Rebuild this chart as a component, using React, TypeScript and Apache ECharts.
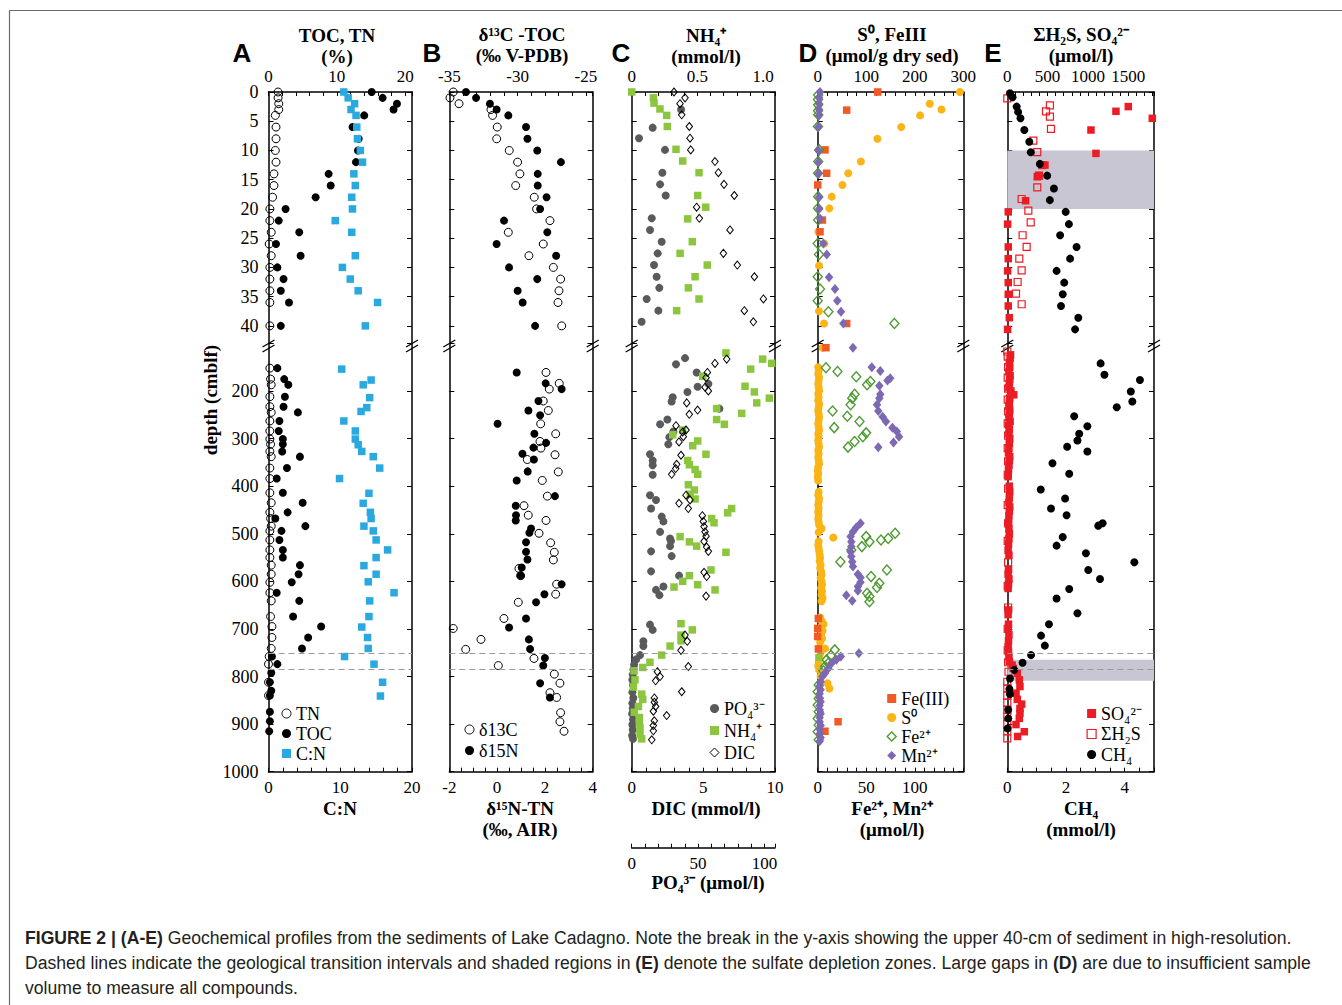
import React, { useEffect, useRef } from "react";
import * as echarts from "echarts";

type P = [number, number]; // [depth (cmblf), value]

// ---------------- Panel A ----------------
const tnPts: P[] = [
  [0, 1.4], [1, 1.4], [2, 1.5], [3, 1.5], [4, 1.0], [6, 1.1], [8, 1.1], [10, 1.0], [12, 1.1], [14, 0.8], [16, 0.8], [18, 0.6],
  [20, 0.2], [22, 0.2], [24, 0.4], [26, 0.1], [28, 0.4], [30, 0.2], [32, 0.2], [34, 0.2], [36, 0.2], [40, 0.2],
  [152, 0.2], [175, 0.3], [187, 0.4], [212, 0.2], [233, 0.2], [245, 0.4], [263, 0.2], [284, 0.2], [301, 0.2], [312, 0.3],
  [327, 0.2], [338, 0.4], [362, 0.2], [384, 0.2], [414, 0.2], [435, 0.4], [455, 0.2], [468, 0.3], [484, 0.4], [494, 0.2],
  [513, 0.2], [534, 0.2], [550, 0.2], [566, 0.4], [585, 0.4], [602, 0.2], [624, 0.2], [641, 0.4], [674, 0.3], [695, 0.5],
  [718, 0.5], [741, 0.4], [758, 0.1], [774, 0.0], [812, 0.0], [840, 0.0],
];
const tocPts: P[] = [
  [0, 15.1], [1, 16.7], [2, 18.8], [3, 18.3], [4, 14.0], [6, 12.3], [8, 13.2], [10, 13.1], [12, 12.8], [14, 8.8], [16, 9.1],
  [18, 6.9], [20, 2.5], [22, 1.5], [24, 4.5], [26, 1.1], [28, 4.7], [30, 1.3], [32, 2.2], [34, 1.8], [36, 3.0], [40, 1.8],
  [152, 1.3], [175, 2.3], [187, 2.9], [212, 2.4], [233, 2.2], [245, 4.3], [263, 1.6], [284, 1.5], [301, 2.1], [312, 2.1],
  [327, 2.0], [338, 4.6], [362, 2.7], [384, 1.2], [414, 2.1], [435, 5.0], [455, 2.8], [468, 1.0], [484, 5.4], [494, 1.9],
  [513, 1.6], [534, 2.1], [550, 2.1], [566, 4.6], [585, 4.4], [602, 3.4], [624, 1.2], [641, 4.5], [674, 3.6], [695, 7.7],
  [718, 5.8], [741, 4.9], [758, 0.5], [774, 1.3], [792, 0.4], [812, 0.2], [830, 0.4], [840, 0.2], [874, 0.2], [894, 0.2], [915, 0.1],
];
const cnPts: P[] = [
  [0, 10.5], [1, 11.1], [2, 12.0], [3, 11.5], [4, 12.2], [6, 12.3], [8, 12.4], [10, 12.8], [12, 13.1], [14, 11.9], [16, 12.1],
  [18, 11.6], [20, 11.7], [22, 9.3], [24, 11.6], [28, 12.1], [30, 10.3], [32, 11.4], [34, 12.5], [36, 15.2], [40, 13.5],
  [154, 10.2], [177, 14.3], [187, 13.2], [214, 14.1], [235, 13.7], [243, 12.9], [263, 10.5], [284, 12.1], [301, 12.1], [313, 12.5],
  [327, 13.0], [338, 14.6], [362, 15.5], [384, 9.9], [415, 14.0], [436, 13.2], [455, 14.2], [468, 14.3], [484, 13.3], [494, 14.6],
  [513, 15.0], [534, 16.6], [550, 15.0], [567, 13.3], [585, 15.0], [601, 13.9], [624, 17.5], [641, 14.1], [674, 14.0], [696, 13.0],
  [718, 13.8], [741, 13.9], [758, 10.6], [774, 14.7], [812, 15.9], [841, 15.6],
];

// ---------------- Panel B ----------------
const d13cPts: P[] = [
  [0, -34.71], [1, -34.95], [2, -34.29], [3, -31.95], [4, -31.83], [6, -31.49], [8, -31.53], [10, -30.61], [12, -30.0], [14, -29.83],
  [16, -30.14], [18, -28.78], [20, -28.61], [22, -27.63], [24, -30.68], [26, -28.12], [28, -29.17], [30, -27.38], [32, -26.85],
  [34, -26.97], [36, -27.04], [40, -26.77],
  [161, -27.92], [184, -26.95], [196, -27.68], [221, -28.12], [241, -27.75], [269, -28.31], [290, -27.21], [306, -28.36],
  [320, -28.29], [334, -27.26], [344, -29.29], [370, -27.02], [388, -28.19], [421, -27.82], [441, -29.53], [461, -29.22],
  [472, -27.92], [499, -28.43], [519, -27.58], [539, -27.31], [555, -27.38], [573, -29.9], [588, -29.78], [606, -27.14],
  [627, -27.21], [644, -29.95], [678, -31.0], [699, -34.71], [722, -32.68], [743, -33.8], [762, -28.8], [777, -31.41],
  [795, -27.31], [814, -26.9], [834, -27.63], [844, -27.14], [876, -26.85], [895, -26.9], [915, -26.6],
];
const d15nPts: P[] = [
  [0, -1.3], [1, -0.88], [2, -0.3], [3, -0.02], [4, 0.47], [6, 1.21], [8, 1.27], [10, 1.68], [12, 2.67], [14, 1.7], [16, 1.7],
  [18, 2.07], [20, 1.8], [22, 0.29], [24, 2.1], [26, -0.02], [28, 2.47], [30, 0.5], [32, 1.68], [34, 0.86], [36, 1.07], [40, 1.59],
  [161, 0.82], [184, 2.03], [196, 2.7], [221, 1.73], [241, 1.31], [251, 1.8], [269, 0.02], [290, 1.56], [309, 2.05], [319, 1.52],
  [332, 1.06], [344, 1.54], [369, 1.28], [388, 0.82], [421, 2.42], [441, 0.78], [461, 0.79], [472, 0.78], [489, 1.42], [498, 1.35],
  [518, 1.21], [538, 1.21], [554, 1.27], [571, 1.03], [588, 0.99], [606, 2.7], [627, 1.98], [644, 1.63], [678, 1.21], [697, 0.5],
  [722, 1.33], [742, 1.38], [761, 2.0], [777, 1.93], [814, 1.8], [844, 2.21],
];

// ---------------- Panel C ----------------
const po4Pts: P[] = [
  [3, 37.2], [6.1, 15.8], [7.9, 5.5], [9.9, 25.1], [13.8, 23.1], [15.8, 21.4], [17.7, 25.6], [21.6, 15.1], [23.6, 13.8],
  [25.6, 22.6], [27.6, 19.6], [29.6, 16.8], [31.6, 18.8], [33.5, 20.8], [35.4, 11.3], [37.4, 20.1], [39.3, 7.5],
  [131, 40.2], [144, 33.4], [161, 49.0], [185, 57.8], [191, 49.7], [202, 42.0], [213, 30.9], [222, 30.1], [237, 66.1],
  [260, 26.9], [270, 21.4], [285, 31.4], [297, 28.4], [312, 27.6], [333, 13.8], [346, 15.8], [356, 15.8], [376, 15.8],
  [419, 13.8], [429, 18.3], [447, 14.6], [464, 22.6], [474, 23.9], [496, 21.4], [510, 28.9], [515, 29.6], [526, 28.9],
  [537, 14.6], [547, 30.1], [579, 14.6], [588, 35.7], [611, 23.9], [618, 18.3], [629, 20.9], [691, 13.8], [702, 15.8],
  [726, 8.8], [736, 8.8], [755, 6.3], [764, 3.3], [775, 1.8], [785, 1.3], [796, 0.8], [807, 0.5], [818, 1.0], [833, 0.5],
  [845, 1.2], [856, 0.5], [867, 0.8], [878, 0.3], [890, 1.0], [901, 0.5], [912, 0.8], [924, 0.3], [931, 1.0],
];
const nh4Pts: P[] = [
  [0, 0.0], [1, 0.165], [1.9, 0.17], [2.9, 0.215], [4, 0.266], [5.9, 0.271], [9.8, 0.337], [11.8, 0.388], [13.8, 0.512],
  [17.7, 0.502], [19.7, 0.563], [21.7, 0.426], [25.6, 0.461], [27.6, 0.368], [29.6, 0.575], [31.6, 0.482], [33.5, 0.431],
  [35.4, 0.512], [37.4, 0.342],
  [120, 0.717], [133, 0.996], [142, 1.065], [154, 0.905], [169, 0.54], [190, 0.862], [202, 0.933], [215, 1.047], [225, 0.951],
  [237, 0.646], [247, 0.837], [260, 0.646], [270, 0.705], [282, 0.388], [292, 0.312], [305, 0.502], [315, 0.464], [333, 0.565],
  [346, 0.426], [355, 0.439], [365, 0.482], [375, 0.502], [397, 0.431], [408, 0.477], [417, 0.444], [427, 0.482], [447, 0.76],
  [456, 0.73], [468, 0.608], [477, 0.626], [506, 0.368], [517, 0.439], [526, 0.494], [539, 0.717], [576, 0.603], [588, 0.439],
  [600, 0.388], [607, 0.502], [612, 0.322], [618, 0.634], [689, 0.375], [702, 0.461], [713, 0.375], [725, 0.375], [736, 0.292],
  [755, 0.228], [770, 0.139], [781, 0.084], [788, 0.018], [807, 0.025], [822, 0.013], [837, 0.076], [848, 0.084], [863, 0.051],
  [875, 0.02], [886, 0.058], [897, 0.058], [908, 0.063], [922, 0.063], [931, 0.076],
];
const dicPts: P[] = [
  [0, 2.95], [1, 3.72], [2, 3.37], [3.9, 3.49], [5.9, 4.02], [7.9, 4.07], [9.9, 4.12], [11.9, 5.81], [13.8, 6.05], [15.8, 6.44],
  [17.7, 7.16], [19.7, 4.53], [21.6, 4.72], [23.6, 6.86], [27.6, 6.4], [29.6, 7.37], [31.6, 8.56], [35.4, 9.19], [37.4, 7.86],
  [39.3, 8.49],
  [133, 6.63], [142, 5.81], [161, 5.28], [172, 5.19], [192, 5.12], [200, 5.35], [225, 3.84], [240, 4.6], [249, 4.02], [273, 3.09],
  [282, 3.79], [286, 3.56], [296, 3.6], [307, 3.3], [335, 3.44], [354, 3.14], [363, 3.07], [375, 2.79], [419, 3.79], [429, 4.07],
  [436, 3.3], [447, 3.95], [462, 4.93], [474, 5.0], [485, 5.05], [496, 5.12], [505, 5.19], [516, 5.05], [528, 5.23], [537, 5.35],
  [581, 5.05], [590, 5.23], [631, 5.19], [713, 3.72], [726, 3.88], [745, 3.44], [779, 3.95], [790, 1.79], [800, 1.98], [809, 1.67],
  [832, 3.49], [845, 1.58], [854, 1.58], [863, 1.67], [873, 1.51], [882, 2.44], [893, 1.58], [903, 1.51], [914, 1.51], [933, 1.4],
];

// ---------------- Panel D ----------------
const fe3Pts: P[] = [
  [0, 123.6], [3.1, 59.7], [9.9, 15.1], [13.9, 18.5], [15.9, 0], [21.9, 9.6], [23.9, 4.8], [39.6, 59.7],
  [109, 17], [678, 1.4], [699, 0], [716, 0], [742, 1.4], [895, 42], [915, 15],
];
const s0Pts: P[] = [
  [0, 293], [2, 231], [3, 255], [4, 211], [6, 172], [8, 123], [11.9, 89], [13.9, 63], [15.9, 51], [17.9, 29], [19.9, 24],
  [23.9, 1.4], [25.9, 13.7], [29.7, 2.7], [37.5, 2.7], [39.6, 13],
  [109, 10], [150, 1], [157, 2], [164, 1], [171, 3], [178, 2], [185, 1], [192, 2], [199, 3], [206, 1], [213, 2], [220, 1],
  [227, 3], [234, 2], [241, 1], [248, 2], [255, 3], [262, 2], [269, 1], [276, 2], [283, 3], [290, 1], [297, 2], [304, 1],
  [311, 2], [318, 3], [325, 1], [332, 2], [339, 1], [346, 2], [353, 3], [360, 1], [367, 0], [374, 1], [381, 0], [388, 1],
  [412, 2], [419, 1], [426, 3], [433, 2], [440, 1], [447, 2], [454, 1], [461, 2], [468, 1], [475, 2], [482, 3], [489, 8],
  [497, 2], [508, 32], [516, 2], [523, 1], [530, 2], [537, 3], [544, 4], [551, 5], [558, 4], [565, 6], [572, 5], [579, 7],
  [586, 8], [593, 6], [600, 8], [607, 9], [614, 7], [621, 9], [628, 8], [635, 10], [642, 8],
  [676, 5], [683, 8], [690, 12], [697, 6], [704, 10], [712, 7], [720, 9], [728, 5], [741, 15], [750, 6], [760, 4], [770, 2],
  [778, 1], [786, 3], [800, 6], [814, 20], [825, 24],
];
const fe2Pts: P[] = [
  [0.5, 0.5], [1.3, 0.3], [2.2, 0.5], [3.2, 0.3], [3.9, 0.5], [5.9, 0.3], [9.9, 1.5], [11.9, 0.5], [13.9, 0.3], [17.9, 0.5],
  [19.9, 0.3], [21.9, 0.5], [25.9, 0], [27.8, 1.4], [31.6, 0], [33.7, 2.4], [35.7, 0], [37.6, 11], [39.6, 79],
  [151, 8.5], [159, 20.4], [170, 39.7], [180, 54.3], [187, 50.9], [207, 38.0], [215, 35.6], [229, 33.9], [242, 15.3],
  [253, 30.5], [264, 43.1], [277, 17.0], [288, 49.9], [296, 46.5], [306, 38.0], [318, 31.2], [499, 79.8], [506, 49.9],
  [510, 72.6], [513, 65.2], [517, 53.3], [527, 45.5], [534, 34.6], [559, 23.4], [576, 71.3], [590, 55.0], [604, 63.5],
  [613, 61.1], [625, 50.9], [632, 53.3], [643, 53.3], [744, 17.6], [756, 13.6], [765, 9.2], [772, 10.9], [779, 7.5],
  [788, 5.8], [818, 1], [832, 0], [846, 1], [860, 0], [874, 1], [888, 0], [902, 1], [916, 0], [933, 1],
];
const mn2Pts: P[] = [
  [0, 2.4], [1, 1.4], [2, 1.4], [3, 1.4], [4, 1.4], [6, 0.7], [10, 0.7], [12, 0.7], [14, 0.7], [18, 1.4], [20, 1.4],
  [21.7, 2.4], [25.9, 5.8], [27.8, 9.3], [31.7, 11.7], [33.7, 17.8], [35.7, 20.2], [37.6, 24], [39.6, 26.4],
  [109, 36.3], [150, 55.7], [158, 64.5], [173, 74.7], [178, 71.9], [189, 63.5], [207, 64.5], [215, 63.5], [229, 61.1],
  [242, 62.4], [254, 66.9], [264, 70.3], [277, 77.0], [285, 81.5], [296, 83.8], [308, 78.1], [318, 62.4], [478, 44.1],
  [487, 39.7], [496, 36.3], [506, 33.9], [517, 34.6], [527, 34.6], [538, 33.9], [548, 34.6], [559, 35.6], [569, 36.3],
  [585, 41.4], [592, 44.1], [602, 44.1], [611, 41.4], [620, 41.4], [629, 29.5], [641, 35.6], [751, 42.4], [758, 23.8],
  [765, 19.3], [772, 14.3], [783, 10.9], [793, 7.5], [800, 4.8], [811, 3], [820, 2], [828, 3], [836, 2], [845, 2], [853, 3],
  [861, 2], [870, 2], [878, 3], [886, 2], [895, 2], [903, 3], [911, 2], [920, 2], [928, 3], [936, 2],
];
const strayPts: P[] = [[760, 1]];

// ---------------- Panel E ----------------
const so4Pts: P[] = [
  [2.5, 1501], [3.3, 1348], [4.5, 1799], [6.5, 1038], [10.5, 1100], [12.5, 467], [14.3, 397], [14.5, 372], [18.6, 227],
  [20.5, 12], [22.6, 4], [26.5, 12], [28.5, 12], [30.6, 4], [32.6, 12], [34.6, 12], [36.6, 12], [38.6, 25], [40.6, 4],
  [124, 40], [132, 35], [140, 25], [150, 30], [160, 20], [168, 35], [176, 30], [184, 25], [193, 20], [200, 45], [208, 80],
  [215, 30], [224, 25], [232, 20], [240, 30], [248, 25], [256, 20], [264, 35], [272, 15], [280, 25], [290, 20], [300, 30],
  [310, 25], [320, 20], [330, 15], [338, 30], [346, 25], [356, 20], [366, 15], [380, 10], [400, 25], [412, 30], [424, 25],
  [434, 20], [444, 30], [452, 25], [462, 20], [476, 15], [490, 20], [500, 25], [510, 20], [522, 15], [535, 10], [545, 20],
  [575, 15], [585, 10], [595, 20], [605, 15], [615, 10], [660, 15], [670, 10], [690, 15], [700, 10], [712, 20], [725, 15],
  [738, 10], [748, 15], [758, 20], [768, 25], [776, 60], [783, 74], [793, 124], [807, 149], [821, 157], [835, 108],
  [848, 124], [858, 178], [867, 157], [877, 157], [888, 149], [901, 108], [916, 211], [926, 128],
];
const h2sPts: P[] = [
  [1.1, 0], [2.3, 529], [3.3, 480], [4.2, 529], [6.3, 542], [8.3, 323], [10.3, 372], [12.5, 434], [14.3, 393], [16.3, 372],
  [18.3, 178], [20.3, 261], [22.3, 290], [24.5, 190], [26.5, 240], [28.5, 149], [30.5, 178], [32.5, 128], [34.5, 108], [36.3, 178],
  [117, 0], [128, 5], [150, 10], [172, 5], [195, 10], [218, 5], [243, 10], [268, 5], [294, 10], [320, 5], [348, 10], [376, 5],
  [405, 10], [440, 5], [478, 10], [515, 5], [560, 10], [610, 5], [655, 10], [700, 5], [745, 5], [770, 10], [790, 15],
  [811, 0], [825, 0], [840, 0], [855, 0], [870, 0], [885, 0], [900, 0], [915, 0], [930, 0],
];
const ch4Pts: P[] = [
  [0.2, 0.09], [0.9, 0.18], [2.5, 0.32], [3.4, 0.37], [4.5, 0.45], [6.5, 0.58], [8.5, 0.75], [10.3, 0.8], [12.3, 1.11],
  [14.3, 1.36], [16.5, 1.59], [18.5, 1.45], [20.5, 1.99], [22.6, 2.1], [24.5, 1.8], [26.5, 2.36], [28.5, 2.14], [30.6, 1.68],
  [32.6, 1.94], [34.6, 1.89], [36.6, 1.83], [38.6, 2.42], [40.6, 2.31],
  [142, 3.18], [166, 3.31], [177, 4.52], [201, 4.21], [222, 4.26], [234, 3.73], [253, 2.28], [274, 2.73], [290, 2.45],
  [304, 2.39], [317, 2.04], [327, 2.73], [352, 1.54], [374, 2.11], [407, 1.14], [426, 1.97], [447, 1.49], [461, 2.02],
  [478, 3.25], [483, 3.1], [507, 1.89], [525, 1.68], [541, 2.68], [560, 4.33], [576, 2.76], [595, 3.16], [616, 2.11],
  [636, 1.68], [667, 2.39], [690, 1.42], [714, 1.15], [735, 1.28], [755, 0.81], [771, 0.52], [786, 0.24], [804, 0.09],
  [826, 0.07], [837, 0.09], [870, 0.03], [888, 0.03], [909, 0.01],
];

const TRANSITION_DEPTHS = [751, 784];
const SULFATE_DEPLETION: [number, number][] = [[10, 20], [765, 809]];

// ---------------- layout / style ----------------
const SERIF = "'Liberation Serif', 'Times New Roman', Times, serif";
const SANS = "'Liberation Sans', Arial, Helvetica, sans-serif";
const UPPER = { top: 92, height: 251.4, min: 0, max: 43, step: 5 };
const LOWER = { top: 343.4, height: 428.3, min: 100, max: 1000, step: 100 };
const PANEL_X: [number, number][] = [[268.5, 412], [449.3, 592.7], [631.7, 775], [817.7, 963.3], [1007.3, 1154]];

type AxisSpec = { min: number; max: number; step: number; lab: number; dec?: number; hideAbove?: number };
const TOP_AXES: AxisSpec[] = [
  { min: 0, max: 21, step: 2, lab: 10 },
  { min: -35, max: -24.5, step: 1, lab: 5 },
  { min: 0, max: 1.09, step: 0.1, lab: 0.5, dec: 1 },
  { min: 0, max: 300, step: 20, lab: 100 },
  { min: 0, max: 1820, step: 100, lab: 500 },
];
const BOTTOM_AXES: AxisSpec[] = [
  { min: 0, max: 20, step: 2, lab: 10 },
  { min: -2, max: 4, step: 0.5, lab: 2 },
  { min: 0, max: 10, step: 1, lab: 5 },
  { min: 0, max: 150, step: 10, lab: 50, hideAbove: 100 },
  { min: 0, max: 5, step: 0.5, lab: 2 },
];
const PO4_AXIS: AxisSpec = { min: 0, max: 108, step: 10, lab: 50, hideAbove: 100 };

const labelFmt = (s: AxisSpec) => (v: number) => {
  const r = v / s.lab;
  if (Math.abs(r - Math.round(r)) > 1e-6) return "";
  if (s.hideAbove !== undefined && v > s.hideAbove + 1e-6) return "";
  if (Math.abs(v) < 1e-9) return "0";
  return s.dec ? v.toFixed(s.dec) : String(Math.round(v));
};

function xAx(s: AxisSpec, grid: number, pos: "top" | "bottom", visible: boolean, offset = 0) {
  return {
    type: "value", gridIndex: grid, position: pos, min: s.min, max: s.max, interval: s.step, offset, show: visible,
    axisLine: { show: true, onZero: false, lineStyle: { color: "#000", width: 1.5 } },
    axisTick: { show: true, inside: true, length: 4, lineStyle: { color: "#000", width: 1 } },
    axisLabel: { show: true, margin: 7, color: "#000", fontFamily: SERIF, fontSize: 17, formatter: labelFmt(s), showMinLabel: true, showMaxLabel: true },
    splitLine: { show: false },
  };
}
function yAx(grid: number, pos: "left" | "right", upper: boolean, labels: boolean) {
  const d = upper ? UPPER : LOWER;
  return {
    type: "value", gridIndex: grid, position: pos, inverse: true, min: d.min, max: d.max, interval: d.step,
    axisLine: { show: true, onZero: false, lineStyle: { color: "#000", width: 1.5 } },
    axisTick: { show: true, inside: true, length: 5, lineStyle: { color: "#000", width: 1 } },
    axisLabel: {
      show: labels, margin: 10, color: "#000", fontFamily: SERIF, fontSize: 18,
      formatter: (v: number) => (upper ? (v % 5 === 0 && v <= 40 ? String(v) : "") : v >= 200 ? String(v) : ""),
    },
    splitLine: { show: false },
  };
}

const CLEAR = "rgba(255,255,255,0)";
const filled = (color: string, symbol: string, size: number) => ({ symbol, symbolSize: size, itemStyle: { color, opacity: 1 } });
const hollow = (color: string, symbol: string, size: number, bw = 1) => ({
  symbol, symbolSize: size, itemStyle: { color: CLEAR, borderColor: color, borderWidth: bw, opacity: 1 },
});

const COL = {
  black: "#000000", blue: "#29a9e0", grey: "#595a5c", green: "#8cc63f", orange: "#f15a24", gold: "#fbb415",
  fe2: "#4f9a33", mn: "#7d68b4", red: "#ec1c24", shade: "#c8c6d3", dash: "#9a9a9a",
};

type Scale = "top" | "bottom" | "po4";
function pair(name: string, pts: P[], p: number, scale: Scale, style: any, upExtra: any = {}, loExtra: any = {}) {
  const xUp = scale === "top" ? 4 * p : scale === "bottom" ? 4 * p + 1 : 21;
  const xLo = scale === "top" ? 4 * p + 3 : scale === "bottom" ? 4 * p + 2 : 20;
  const up = pts.filter((d) => d[0] <= UPPER.max).map((d) => [d[1], d[0]]);
  const lo = pts.filter((d) => d[0] >= LOWER.min).map((d) => [d[1], d[0]]);
  const base = { type: "scatter", name, emphasis: { disabled: true }, silent: true, ...style };
  return [
    { ...base, xAxisIndex: xUp, yAxisIndex: 4 * p, data: up, ...upExtra },
    { ...base, xAxisIndex: xLo, yAxisIndex: 4 * p + 2, data: lo, ...loExtra },
  ];
}

const dashLines = {
  markLine: {
    silent: true, symbol: ["none", "none"], label: { show: false },
    lineStyle: { type: [6, 4], color: COL.dash, width: 1.2 },
    data: TRANSITION_DEPTHS.map((d) => ({ yAxis: d })),
  },
};
const shade = (range: [number, number]) => ({
  markArea: { silent: true, label: { show: false }, itemStyle: { color: COL.shade, opacity: 1 }, data: [[{ yAxis: range[0] }, { yAxis: range[1] }]] },
});

function buildOption() {
  const grid: any[] = [];
  const xAxis: any[] = [];
  const yAxis: any[] = [];
  PANEL_X.forEach(([a, b], p) => {
    grid.push({ left: a, width: b - a, top: UPPER.top, height: UPPER.height, containLabel: false });
    grid.push({ left: a, width: b - a, top: LOWER.top, height: LOWER.height, containLabel: false });
    xAxis.push(xAx(TOP_AXES[p], 2 * p, "top", true));
    xAxis.push(xAx(BOTTOM_AXES[p], 2 * p, "bottom", false));
    xAxis.push(xAx(BOTTOM_AXES[p], 2 * p + 1, "bottom", true));
    xAxis.push(xAx(TOP_AXES[p], 2 * p + 1, "top", false));
    yAxis.push(yAx(2 * p, "left", true, p === 0));
    yAxis.push(yAx(2 * p, "right", true, false));
    yAxis.push(yAx(2 * p + 1, "left", false, p === 0));
    yAxis.push(yAx(2 * p + 1, "right", false, false));
  });
  xAxis.push(xAx(PO4_AXIS, 5, "bottom", true, 76)); // 20
  xAxis.push(xAx(PO4_AXIS, 4, "bottom", false)); // 21

  const series: any[] = [
    ...pair("TN", tnPts, 0, "top", hollow(COL.black, "circle", 8), {}, dashLines),
    ...pair("TOC", tocPts, 0, "top", filled(COL.black, "circle", 8)),
    ...pair("C:N", cnPts, 0, "bottom", filled(COL.blue, "rect", 7.5)),
    ...pair("δ13C", d13cPts, 1, "top", hollow(COL.black, "circle", 8), {}, dashLines),
    ...pair("δ15N", d15nPts, 1, "bottom", filled(COL.black, "circle", 8)),
    ...pair("PO₄³⁻", po4Pts, 2, "po4", filled(COL.grey, "circle", 8), {}, dashLines),
    ...pair("NH₄⁺", nh4Pts, 2, "top", filled(COL.green, "rect", 7.5)),
    ...pair("DIC", dicPts, 2, "bottom", hollow(COL.black, "diamond", [6.5, 8] as any, 1)),
    ...pair("S⁰", s0Pts, 3, "top", filled(COL.gold, "circle", 8), {}, dashLines),
    ...pair("Fe(III)", fe3Pts, 3, "top", filled(COL.orange, "rect", 7.5)),
    ...pair("Fe²⁺", fe2Pts, 3, "bottom", hollow(COL.fe2, "diamond", [9, 10] as any, 1.4)),
    ...pair("Mn²⁺", mn2Pts, 3, "bottom", filled(COL.mn, "diamond", [8.5, 10] as any)),
    ...pair("stray", strayPts, 3, "bottom", filled(COL.green, "rect", 7)),
    ...pair("SO₄²⁻", so4Pts, 4, "top", filled(COL.red, "rect", 7.5), shade(SULFATE_DEPLETION[0]), { ...shade(SULFATE_DEPLETION[1]), ...dashLines }),
    ...pair("ΣH₂S", h2sPts, 4, "top", hollow(COL.red, "rect", 7, 1.2)),
    ...pair("CH₄", ch4Pts, 4, "bottom", filled(COL.black, "circle", 8)),
  ];

  const legendText = { fontFamily: SERIF, fontSize: 18, color: "#000", lineHeight: 17 };
  const li = (name: string, icon: string, itemStyle: any) => ({ name, icon, itemStyle });
  const solid = (c: string) => ({ color: c, borderWidth: 0 });
  const open = (c: string, w = 1) => ({ color: CLEAR, borderColor: c, borderWidth: w });
  const mkLegend = (left: number, top: number, gap: number, data: any[]) => ({
    orient: "vertical", left, top, padding: 0, itemGap: gap, itemWidth: 9, itemHeight: 9, selectedMode: false,
    textStyle: legendText, data,
  });
  const legend = [
    mkLegend(281.5, 704.5, 2, [li("TN", "circle", open(COL.black)), li("TOC", "circle", solid(COL.black)), li("C:N", "rect", solid(COL.blue))]),
    mkLegend(464.5, 720.5, 3, [li("δ13C", "circle", open(COL.black)), li("δ15N", "circle", solid(COL.black))]),
    mkLegend(709.5, 699.5, 4, [li("PO₄³⁻", "circle", solid(COL.grey)), li("NH₄⁺", "rect", solid(COL.green)), li("DIC", "diamond", open(COL.black))]),
    mkLegend(886.5, 689.5, 1, [li("Fe(III)", "rect", solid(COL.orange)), li("S⁰", "circle", solid(COL.gold)), li("Fe²⁺", "diamond", open(COL.fe2, 1.4)), li("Mn²⁺", "diamond", solid(COL.mn))]),
    mkLegend(1086.5, 704.5, 2.5, [li("SO₄²⁻", "rect", solid(COL.red)), li("ΣH₂S", "rect", open(COL.red, 1.2)), li("CH₄", "circle", solid(COL.black))]),
  ];

  const hdr = (x: number, y: number, text: string) => ({
    type: "text", x, y, silent: true,
    style: { text, align: "center", verticalAlign: "middle", fill: "#000", fontFamily: SERIF, fontWeight: "bold", fontSize: 19, lineHeight: 21 },
  });
  const letter = (x: number, text: string) => ({
    type: "text", x, y: 53, silent: true,
    style: { text, align: "center", verticalAlign: "middle", fill: "#000", fontFamily: SANS, fontWeight: "bold", fontSize: 26 },
  });
  const breaks: any[] = [];
  PANEL_X.forEach(([a, b]) => {
    [a, b].forEach((x) => {
      [-2.5, 2.5].forEach((dy) => {
        breaks.push({ type: "line", silent: true, shape: { x1: x - 6, y1: 346 + dy + 3.5, x2: x + 6, y2: 346 + dy - 3.5 }, style: { stroke: "#000", lineWidth: 1.3 } });
      });
    });
  });
  const CAP_SIZE = 17.6;
  const capStyle = { fill: "#231f20", fontFamily: SANS, fontSize: CAP_SIZE, rich: { b: { fontWeight: "bold", fontFamily: SANS, fontSize: CAP_SIZE, fill: "#231f20" } } };
  const cap = (y: number, text: string) => ({ type: "text", x: 25, y, silent: true, style: { ...capStyle, text, align: "left", verticalAlign: "middle" } });

  const graphic = [
    { type: "line", silent: true, shape: { x1: 9.5, y1: 10.5, x2: 1342, y2: 10.5 }, style: { stroke: "#6a6a6a", lineWidth: 1.2 } },
    { type: "line", silent: true, shape: { x1: 9.5, y1: 10.5, x2: 9.5, y2: 1005 }, style: { stroke: "#6a6a6a", lineWidth: 1.2 } },
    letter(242, "A"), letter(432, "B"), letter(621, "C"), letter(808, "D"), letter(993, "E"),
    hdr(337, 45.5, "TOC, TN\n(%)"),
    hdr(522, 45, "δ¹³C -TOC\n(‰ V-PDB)"),
    hdr(706, 46, "NH₄⁺\n(mmol/l)"),
    hdr(892, 45, "S⁰, FeIII\n(μmol/g dry sed)"),
    hdr(1081, 45, "ΣH₂S, SO₄²⁻\n(μmol/l)"),
    hdr(340, 808, "C:N"),
    hdr(520, 818.5, "δ¹⁵N-TN\n(‰, AIR)"),
    hdr(706, 808, "DIC (mmol/l)"),
    hdr(708, 882, "PO₄³⁻ (μmol/l)"),
    hdr(892, 818.5, "Fe²⁺, Mn²⁺\n(μmol/l)"),
    hdr(1081, 818.5, "CH₄\n(mmol/l)"),
    {
      type: "text", x: 210, y: 400, rotation: Math.PI / 2, silent: true,
      style: { text: "depth (cmblf)", align: "center", verticalAlign: "middle", fill: "#000", fontFamily: SERIF, fontWeight: "bold", fontSize: 19 },
    },
    ...breaks,
    cap(938, "{b|FIGURE 2 | (A-E)} Geochemical profiles from the sediments of Lake Cadagno. Note the break in the y-axis showing the upper 40-cm of sediment in high-resolution."),
    cap(963, "Dashed lines indicate the geological transition intervals and shaded regions in {b|(E)} denote the sulfate depletion zones. Large gaps in {b|(D)} are due to insufficient sample"),
    cap(988, "volume to measure all compounds."),
  ];

  return {
    animation: false,
    backgroundColor: "#ffffff",
    textStyle: { fontFamily: SERIF },
    grid, xAxis, yAxis, series, legend, graphic,
  };
}

export default function App() {
  const ref = useRef<HTMLDivElement>(null);
  useEffect(() => {
    if (!ref.current) return;
    const chart = echarts.init(ref.current, undefined, { renderer: "svg" });
    chart.setOption(buildOption() as any);
    return () => chart.dispose();
  }, []);
  return <div ref={ref} style={{ position: "absolute", left: 0, top: 0, width: 1342, height: 1005, background: "#fff" }} />;
}
